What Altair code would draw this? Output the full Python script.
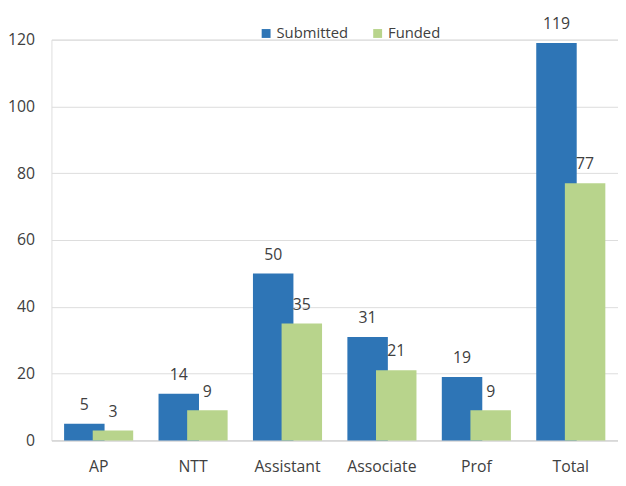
import altair as alt
import pandas as pd

categories = ["AP", "NTT", "Assistant", "Associate", "Prof", "Total"]
submitted = [5, 14, 50, 31, 19, 119]
funded = [3, 9, 35, 21, 9, 77]
series_names = ["Submitted", "Funded"]
colors = ["#2E75B6", "#B8D48C"]
y_ticks = [0, 20, 40, 60, 80, 100, 120]

rows = []
for c, s, f in zip(categories, submitted, funded):
    rows.append({"category": c, "series": "Submitted", "value": s})
    rows.append({"category": c, "series": "Funded", "value": f})
df = pd.DataFrame(rows)

FONT = "Open Sans"
TXT = "#404040"

x = alt.X("category:N", sort=categories,
          scale=alt.Scale(paddingInner=0, paddingOuter=0),
          axis=alt.Axis(labelAngle=0, title=None, ticks=False, domainColor="#d0d0d0",
                        labelPadding=19, labelFontSize=16, labelColor=TXT, labelFont=FONT))
y = alt.Y("value:Q", scale=alt.Scale(domain=[0, 120], nice=False),
          axis=alt.Axis(values=y_ticks, title=None, domain=False, ticks=False,
                        gridColor="#dcdcdc", labelPadding=17, labelFontSize=16,
                        labelColor=TXT, labelFont=FONT))
color = alt.Color("series:N", scale=alt.Scale(domain=series_names, range=colors),
                  legend=alt.Legend(title=None, orient="none", direction="horizontal",
                                    legendX=210, legendY=-14, symbolType="square",
                                    symbolSize=81, symbolStrokeWidth=0, labelFontSize=15,
                                    labelFont=FONT, labelColor=TXT, columnPadding=22,
                                    labelOffset=3, padding=0))

base = alt.Chart(df).encode(x=x, y=y)

bar_s = base.transform_filter(alt.datum.series == "Submitted").mark_bar(
    width=41, xOffset=-14.5).encode(color=color)
bar_f = base.transform_filter(alt.datum.series == "Funded").mark_bar(
    width=41, xOffset=14.5).encode(color=color)
txt_s = base.transform_filter(alt.datum.series == "Submitted").mark_text(
    xOffset=-14.5, dy=-19, fontSize=16, font=FONT, color=TXT).encode(text="value:Q")
txt_f = base.transform_filter(alt.datum.series == "Funded").mark_text(
    xOffset=14.5, dy=-19, fontSize=16, font=FONT, color=TXT).encode(text="value:Q")

chart = alt.layer(bar_s, bar_f, txt_s, txt_f).properties(
    width=574, height=406,
    autosize=alt.AutoSizeParams(type="none"),
    padding={"left": 44, "top": 29, "right": 0, "bottom": 34},
).configure_view(stroke=None).configure(background="white")

chart.save("out.html", embed_options={"renderer": "svg", "actions": False})
